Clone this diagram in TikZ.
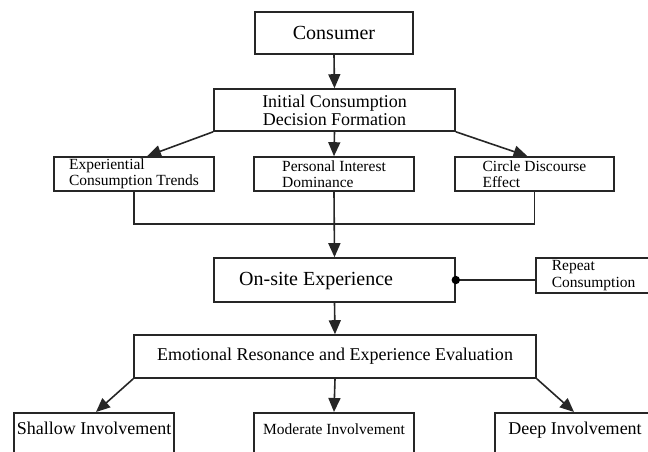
\documentclass[tikz,border=0pt]{standalone}
\usepackage{fontspec}
\setmainfont{Liberation Serif}
\usetikzlibrary{arrows.meta,calc}
\begin{document}
\begin{tikzpicture}[x=1pt,y=-1pt,
  box/.style={draw=black!85,line width=1.6pt,inner sep=0pt,align=center},
  arr/.style={draw=black!85,line width=1.6pt,-{Triangle[length=14pt,width=12pt]}},
  conn/.style={draw=black!85,line width=1.6pt},
  big/.style={font=\fontsize{20}{20}\selectfont},
  mid/.style={font=\fontsize{18}{18}\selectfont},
  sml/.style={font=\fontsize{15.5}{16.5}\selectfont}]
\useasboundingbox (0,0) rectangle (648,452);
% top
\node[box,big,minimum width=158,minimum height=42] (cons) at (334,33) {Consumer};
\node[box,mid,minimum width=241,minimum height=42] (init) at (334.5,110)
  {Initial Consumption\\Decision Formation};
\node[box,sml,align=left,minimum width=160,minimum height=34] (exp) at (134,174)
  {Experiential\\Consumption Trends};
\node[box,sml,align=left,minimum width=160,minimum height=34] (pers) at (334,174)
  {Personal Interest\\Dominance};
\node[box,sml,align=left,minimum width=159,minimum height=34] (circ) at (534.5,174)
  {Circle Discourse\\Effect};
\coordinate (m) at (334,224);
% middle
\node[box,minimum width=241,minimum height=44] (onsite) at (334.5,280) {};
\node[big,inner sep=0pt,anchor=base west] (onsitetext) at (239,285) {On-site Experience};
\node[box,sml,align=left,anchor=west,minimum width=125,minimum height=35,
  text width=93,inner xsep=16pt] (rep) at (535,275.5) {Repeat\\Consumption};
\node[box,mid,minimum width=402,minimum height=43] (emot) at (335,356.5)
  {Emotional Resonance and Experience Evaluation};
% bottom
\node[box,mid,anchor=north,minimum width=160,text height=13pt,text depth=40pt,inner ysep=9pt]
  (shal) at (94,412) {Shallow Involvement};
\node[box,sml,anchor=north,minimum width=160,text height=12pt,text depth=40pt,inner ysep=10pt]
  (mod) at (334,412) {Moderate Involvement};
\node[box,mid,anchor=north,minimum width=160,text height=13pt,text depth=40pt,inner ysep=9pt]
  (deep) at (575,412) {Deep Involvement};
% connectors
\draw[arr] (cons.south) -- (init.north);
\draw[arr] (init.south west) -- ($(exp.north)+(13,0)$);
\draw[arr] (init.south) -- (pers.north);
\draw[arr] (init.south east) -- ($(circ.north)+(-7,0)$);
\draw[conn] (exp.south) |- (m) -| (circ.south);
\draw[arr] (pers.south) -- (onsite.north);
\draw[conn] (onsite.east) -- (onsite.east -| rep.west);
\fill[black] (onsite.east) circle (4.2pt);
\draw[arr] (onsite.south) -- (emot.north);
\draw[arr] (emot.south west) -- ($(shal.north)+(2,0)$);
\draw[arr] (emot.south) -- (mod.north);
\draw[arr] (emot.south east) -- ($(deep.north)+(-1,0)$);
\end{tikzpicture}
\end{document}
